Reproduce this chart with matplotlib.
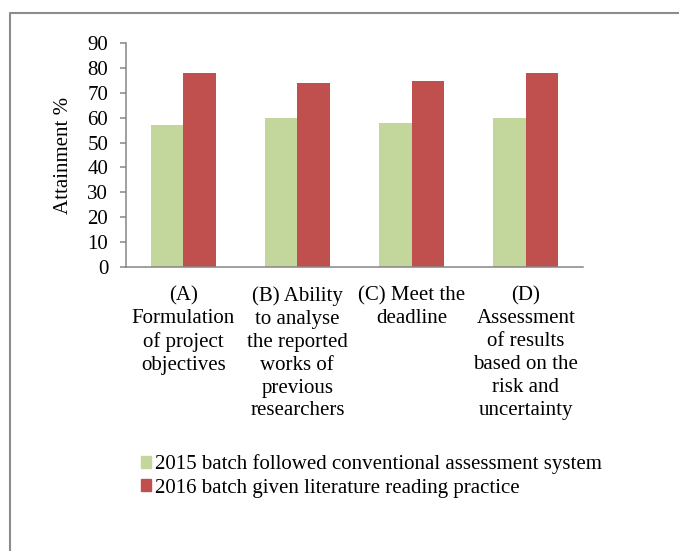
import matplotlib.pyplot as plt
from matplotlib.lines import Line2D
from matplotlib.patches import Patch
import numpy as np

# data
categories = [
    "(A)\nFormulation\nof project\nobjectives",
    "(B) Ability\nto analyse\nthe reported\nworks of\nprevious\nresearchers",
    "(C) Meet the\ndeadline",
    "(D)\nAssessment\nof results\nbased on the\nrisk and\nuncertainty",
]
batch_2015 = [57, 60, 58, 60]
batch_2016 = [78, 74, 75, 78]
series_names = [
    "2015 batch followed conventional assessment system",
    "2016 batch given literature reading practice",
]
yticks = list(range(0, 100, 10))

green = "#C3D69B"
red = "#C0504D"
gray = "#868686"

plt.rcParams['font.family'] = ['Liberation Serif', 'DejaVu Serif']
fs = 15

fig = plt.figure(figsize=(6.79, 5.51), dpi=100)
ax = fig.add_axes([126/679, 1 - 266.7/551, 457/679, (266.7 - 43.3)/551])

x = np.arange(len(categories))
w = 0.285
ax.bar(x - w/2, batch_2015, width=w, color=green)
ax.bar(x + w/2, batch_2016, width=w, color=red)

ax.set_xlim(-0.5, len(categories) - 0.5)
ax.set_ylim(0, 90)
ax.set_yticks(yticks)
ax.set_xticks(x)
ax.set_xticklabels(categories, fontsize=fs, linespacing=1.28, va='top')
ax.tick_params(axis='x', length=0, pad=14)
ax.tick_params(axis='y', labelsize=fs, length=4.3, width=1.1, color=gray, pad=8.5)

for s in ['top', 'right']:
    ax.spines[s].set_visible(False)
for s in ['left', 'bottom']:
    ax.spines[s].set_color(gray)
    ax.spines[s].set_linewidth(1.1)

ax.set_ylabel("Attainment %", fontsize=fs)
ax.yaxis.set_label_coords(-0.115, 0.5)

handles = [Patch(color=green), Patch(color=red)]
fig.legend(handles, series_names, loc='center left',
           bbox_to_anchor=(141/679, 1 - 476/551), frameon=False,
           fontsize=fs, handlelength=0.5, handleheight=0.5,
           handletextpad=0.15, labelspacing=0.2, borderpad=0, borderaxespad=0)

# outer frame (only top and left edges visible in the crop)
fig.add_artist(Line2D([10/679, 10/679, 1.0], [0.0, 1 - 13/551, 1 - 13/551],
                      transform=fig.transFigure, color="#8c8c8c", linewidth=1.5))

fig.savefig("out.png", dpi=100)
